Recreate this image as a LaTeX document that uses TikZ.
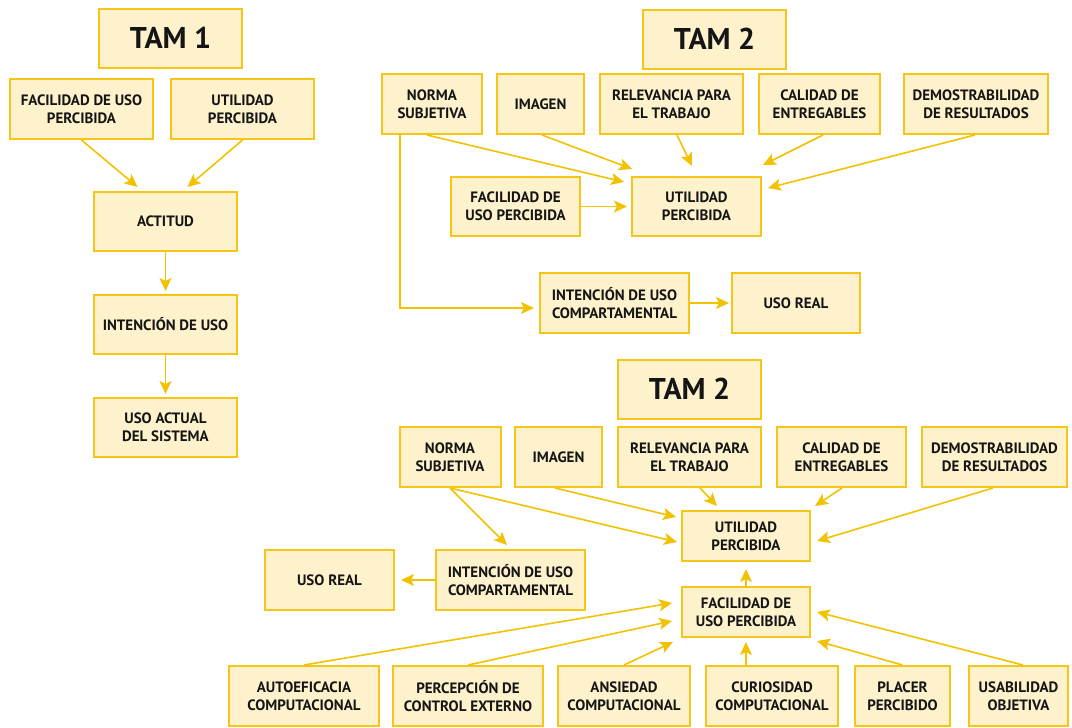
\documentclass[tikz,border=0pt]{standalone}
\usepackage{fontspec}
\setmainfont{PT Sans}
\usetikzlibrary{arrows.meta}
\definecolor{boxfill}{HTML}{FDF2CC}
\definecolor{boxline}{HTML}{F5C518}
\definecolor{arrowcol}{HTML}{F2C200}
\definecolor{ink}{HTML}{151515}
\tikzset{
  box/.style={draw=boxline, fill=boxfill, line width=2pt, inner sep=0pt,
    align=center, text=ink, font=\fontsize{15}{18}\selectfont\bfseries},
  titlebox/.style={box, minimum width=143pt, minimum height=59pt,
    font=\fontsize{30}{34}\selectfont\bfseries},
  link/.style={draw=arrowcol, line width=1.6pt,
    -{Stealth[length=13pt,width=12pt,inset=3pt]}},
}
\begin{document}
\begin{tikzpicture}[x=1pt,y=-1pt]
\useasboundingbox (0,0) rectangle (1072,728);

% ---------- TAM 1 ----------
\node[titlebox] (t1) at (170.5,38) {TAM 1};
\node[box, minimum width=143pt, minimum height=60pt] (fu1) at (81.5,109) {FACILIDAD DE USO\\PERCIBIDA};
\node[box, minimum width=143pt, minimum height=60pt] (up1) at (242.5,109) {UTILIDAD\\PERCIBIDA};
\node[box, minimum width=143pt, minimum height=59pt] (act) at (165.5,221.5) {ACTITUD};
\node[box, minimum width=143pt, minimum height=59pt] (int1) at (165.5,324.5) {INTENCIÓN DE USO};
\node[box, minimum width=143pt, minimum height=59pt] (uso1) at (165.5,427.5) {USO ACTUAL\\DEL SISTEMA};

\draw[link] (fu1.south) -- ([xshift=-28pt,yshift=4pt]act.north);
\draw[link] (up1.south) -- ([xshift=22pt,yshift=4pt]act.north);
\draw[link] (act.south) -- ([yshift=3pt]int1.north);
\draw[link] (int1.south) -- ([yshift=3pt]uso1.north);

% ---------- TAM 2 (upper) ----------
\node[titlebox] (t2) at (714.5,39) {TAM 2};
\node[box, minimum width=100pt, minimum height=60pt] (ns2) at (432,104) {NORMA\\SUBJETIVA};
\node[box, minimum width=87pt, minimum height=60pt] (im2) at (540.5,104) {IMAGEN};
\node[box, minimum width=143pt, minimum height=60pt] (rel2) at (671.5,104) {RELEVANCIA PARA\\EL TRABAJO};
\node[box, minimum width=121pt, minimum height=60pt] (cal2) at (819.5,104) {CALIDAD DE\\ENTREGABLES};
\node[box, minimum width=144pt, minimum height=60pt] (dem2) at (976,104) {DEMOSTRABILIDAD\\DE RESULTADOS};
\node[box, minimum width=129pt, minimum height=59pt] (fu2) at (515.5,206.5) {FACILIDAD DE\\USO PERCIBIDA};
\node[box, minimum width=129pt, minimum height=59pt] (up2) at (696.5,206.5) {UTILIDAD\\PERCIBIDA};
\node[box, minimum width=149pt, minimum height=60pt] (int2) at (614.5,303) {INTENCIÓN DE USO\\COMPARTAMENTAL};
\node[box, minimum width=128pt, minimum height=60pt] (ur2) at (796,303) {USO REAL};

\draw[link] ([xshift=-5pt]ns2.south) -- ([xshift=-7pt,yshift=24.5pt]up2.west);
\draw[link] ([xshift=1.5pt]im2.south) -- ([xshift=1pt,yshift=7pt]up2.north west);
\draw[link] ([xshift=5.5pt]rel2.south) -- ([xshift=-4.5pt,yshift=10pt]up2.north);
\draw[link] ([xshift=3.5pt]cal2.south) -- ([xshift=1pt,yshift=11pt]up2.north east);
\draw[link] ([xshift=-1pt]dem2.south) -- ([xshift=6pt,yshift=18.5pt]up2.east);
\draw[link] (fu2.east) -- ([xshift=-4pt]up2.west);
\draw[link] ([xshift=-32pt]ns2.south) |- ([xshift=-5pt,yshift=-5pt]int2.west);
\draw[link] (int2.east) -- ([xshift=-2pt]ur2.west);

% ---------- TAM 2 (lower) ----------
\node[titlebox] (t3) at (689.5,389) {TAM 2};
\node[box, minimum width=101pt, minimum height=60pt] (ns3) at (450,457) {NORMA\\SUBJETIVA};
\node[box, minimum width=87pt, minimum height=60pt] (im3) at (558.5,457) {IMAGEN};
\node[box, minimum width=143pt, minimum height=60pt] (rel3) at (689.5,457) {RELEVANCIA PARA\\EL TRABAJO};
\node[box, minimum width=129pt, minimum height=60pt] (cal3) at (841.5,457) {CALIDAD DE\\ENTREGABLES};
\node[box, minimum width=145pt, minimum height=60pt] (dem3) at (994.5,457) {DEMOSTRABILIDAD\\DE RESULTADOS};
\node[box, minimum width=128pt, minimum height=50pt] (up3) at (746,536) {UTILIDAD\\PERCIBIDA};
\node[box, minimum width=128pt, minimum height=50pt] (fu3) at (746,612) {FACILIDAD DE\\USO PERCIBIDA};
\node[box, minimum width=149pt, minimum height=60pt] (int3) at (510.5,580) {INTENCIÓN DE USO\\COMPARTAMENTAL};
\node[box, minimum width=129pt, minimum height=60pt] (ur3) at (329.5,580) {USO REAL};
\node[box, minimum width=150pt, minimum height=60pt] (ae) at (304,696) {AUTOEFICACIA\\COMPUTACIONAL};
\node[box, minimum width=150pt, minimum height=60pt] (pc) at (468,696) {PERCEPCIÓN DE\\CONTROL EXTERNO};
\node[box, minimum width=132pt, minimum height=60pt] (an) at (624,696) {ANSIEDAD\\COMPUTACIONAL};
\node[box, minimum width=132pt, minimum height=60pt] (cu) at (772,696) {CURIOSIDAD\\COMPUTACIONAL};
\node[box, minimum width=95pt, minimum height=60pt] (pl) at (902.5,696) {PLACER\\PERCIBIDO};
\node[box, minimum width=99pt, minimum height=60pt] (us) at (1018.5,696) {USABILIDAD\\OBJETIVA};

\draw[link] (ns3.south) -- ([xshift=-4pt,yshift=-6pt]up3.west);
\draw[link] (ns3.south) -- ([xshift=-3.5pt,yshift=4pt]int3.north);
\draw[link] ([xshift=-3.5pt]im3.south) -- ([xshift=-5pt,yshift=19pt]up3.west);
\draw[link] ([xshift=10.5pt]rel3.south) -- ([xshift=-29pt,yshift=4pt]up3.north);
\draw[link] ([xshift=0.5pt]cal3.south) -- ([xshift=4pt,yshift=4pt]up3.north east);
\draw[link] ([xshift=-1.5pt]dem3.south) -- ([xshift=6pt,yshift=-5pt]up3.east);
\draw[link] (fu3.north) -- ([yshift=-7pt]up3.south);
\draw[link] (int3.west) -- ([xshift=6pt]ur3.east);
\draw[link] (ae.north) -- ([xshift=-9pt,yshift=9pt]fu3.west);
\draw[link] (pc.north) -- ([xshift=-9pt,yshift=-9pt]fu3.west);
\draw[link] (an.north) -- ([xshift=-8pt,yshift=-4pt]fu3.south west);
\draw[link] ([xshift=-26pt]cu.north) -- ([yshift=-4pt]fu3.south);
\draw[link] (pl.north) -- ([xshift=6pt,yshift=-3pt]fu3.south east);
\draw[link] ([xshift=4.5pt]us.north) -- ([xshift=6pt]fu3.east);
\end{tikzpicture}
\end{document}
